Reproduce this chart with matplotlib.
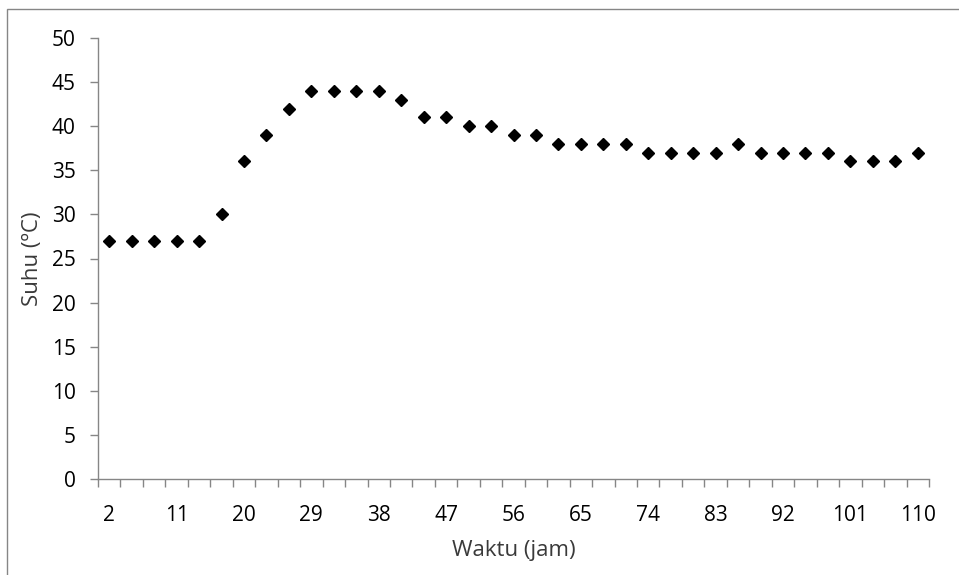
import matplotlib.pyplot as plt
from matplotlib.patches import Rectangle

# waktu (jam) tiap 3 jam, suhu dalam derajat C
waktu = list(range(2, 111, 3))
suhu = [27, 27, 27, 27, 27, 30, 36, 39, 42, 44, 44, 44, 44, 43, 41, 41, 40, 40,
        39, 39, 38, 38, 38, 38, 37, 37, 37, 37, 38, 37, 37, 37, 37, 36, 36, 36, 37]

plt.rcParams['font.family'] = ['Open Sans', 'DejaVu Sans']

fig = plt.figure(figsize=(9.59, 5.75), dpi=100)
ax = fig.add_axes([98/959, 1-479/575, 831/959, 441/575])

idx = list(range(len(waktu)))
ax.plot(idx, suhu, linestyle='none', marker='D', markersize=6.5, color='black')

ax.set_xlim(-0.5, len(waktu) - 0.5)
ax.set_ylim(0, 50)
ax.set_yticks(range(0, 51, 5))
ax.set_xticks(idx[::3])
ax.set_xticklabels([str(w) for w in waktu[::3]])
ax.set_xticks([i - 0.5 for i in range(len(waktu) + 1)], minor=True)

gray = '#868686'
for s in ['top', 'right']:
    ax.spines[s].set_visible(False)
for s in ['left', 'bottom']:
    ax.spines[s].set_color(gray)
    ax.spines[s].set_linewidth(1.0)

ax.tick_params(axis='y', length=6, width=1.0, color=gray, labelsize=15, pad=10)
ax.tick_params(axis='x', which='major', length=0, labelsize=15, pad=19)
ax.tick_params(axis='x', which='minor', length=6, width=1.0, color=gray)

ax.set_xlabel('Waktu (jam)', fontsize=16, color='#3a3a3a', labelpad=10)
ax.set_ylabel('Suhu (ºC)', fontsize=16, color='#3a3a3a', labelpad=6)

# bingkai grafik
fig.patches.append(Rectangle((7/959, -0.01), 1.0, 1 - 9/575 + 0.01,
                             transform=fig.transFigure, fill=False,
                             edgecolor=gray, linewidth=1.0))

plt.savefig('out.png', dpi=100)
